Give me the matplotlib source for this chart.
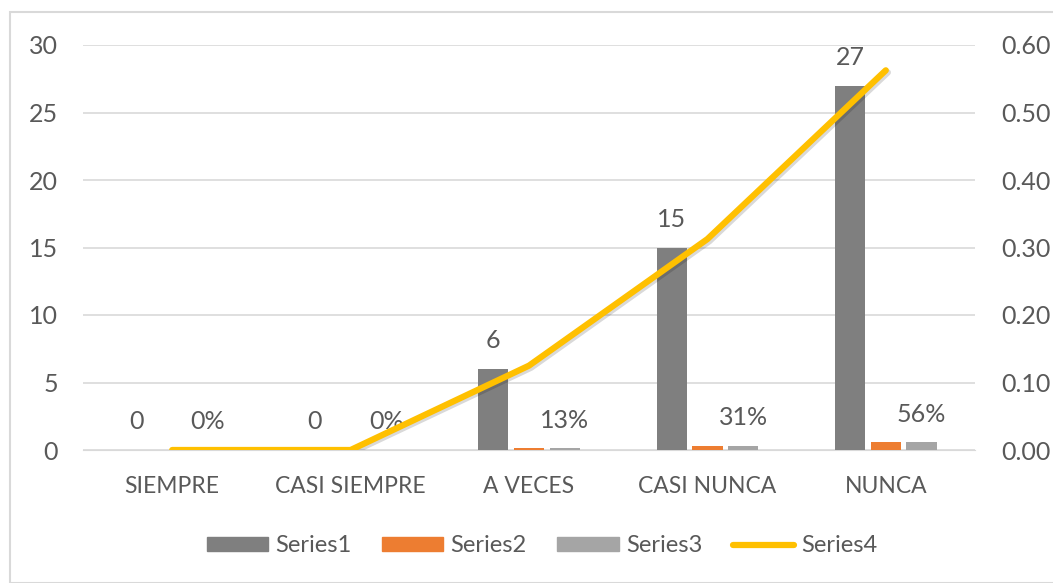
import matplotlib
matplotlib.use("Agg")
import matplotlib.pyplot as plt
import matplotlib.patheffects as pe
from matplotlib.patches import Rectangle
import numpy as np

categories = ["SIEMPRE", "CASI SIEMPRE", "A VECES", "CASI NUNCA", "NUNCA"]
series1 = [0, 0, 6, 15, 27]
series2 = [0, 0, 0.125, 0.3125, 0.5625]
series3 = [0, 0, 0.125, 0.3125, 0.5625]
series4 = [0, 0, 0.125, 0.3125, 0.5625]
s1_labels = ["0", "0", "6", "15", "27"]
s3_labels = ["0%", "0%", "13%", "31%", "56%"]
left_ticks = [0, 5, 10, 15, 20, 25, 30]
right_ticks = [0.0, 0.1, 0.2, 0.3, 0.4, 0.5, 0.6]

plt.rcParams['font.family'] = ['Lato', 'DejaVu Sans']
txt = "#595959"

fig = plt.figure(figsize=(10.53, 5.83), dpi=100)
fig.patches.append(Rectangle((10/1053, 0), 1.2, 1 - 12/583, transform=fig.transFigure,
                             fill=False, edgecolor="#D9D9D9", lw=1.5))
ax = fig.add_axes([83/1053, 1 - 450/583, (975 - 83)/1053, (450 - 45)/583])
ax2 = ax.twinx()

x = np.arange(len(categories))
w = 0.17
off = 0.2
sh = [pe.SimpleLineShadow(offset=(1.5, -1.5), alpha=0.15, shadow_color="k"), pe.Normal()]
ax.bar(x - off, series1, w, color="#7F7F7F", label="Series1", zorder=3)
ax.bar(x, series2, w, color="#ED7D31", label="Series2", zorder=3)
ax.bar(x + off, series3, w, color="#A5A5A5", label="Series3", zorder=3)

for i in range(len(x)):
    ax.annotate(s1_labels[i], (x[i] - off, series1[i]), xytext=(0, 12), textcoords="offset points",
                ha="center", va="bottom", fontsize=18, color=txt)
    ax.annotate(s3_labels[i], (x[i] + off, series3[i]), xytext=(0, 12), textcoords="offset points",
                ha="center", va="bottom", fontsize=18, color=txt)

ax.set_xlim(-0.5, len(x) - 0.5)
ax.set_ylim(0, 30)
ax2.set_ylim(0, 0.6)
ax.set_yticks(left_ticks)
ax2.set_yticks(right_ticks)
ax2.set_yticklabels([f"{v:.2f}" for v in right_ticks])
ax.set_xticks(x)
ax.set_xticklabels(categories)
ax.grid(axis="y", color="#D9D9D9", lw=1.2, zorder=0)
ax.set_axisbelow(True)
for a in (ax, ax2):
    for s in a.spines.values():
        s.set_visible(False)
    a.tick_params(length=0, labelsize=18, colors=txt)
ax.tick_params(axis="x", labelsize=16.5, pad=19)
ax.tick_params(axis="y", pad=18)
ax2.tick_params(axis="y", pad=19)
ax.spines["bottom"].set_visible(True)
ax.spines["bottom"].set_color("#D9D9D9")
ax.set_zorder(ax2.get_zorder() + 1)
ax.patch.set_visible(False)

# Series4 uses the secondary scale; draw it on the top axes through ax2's data transform
ax.plot(x, series4, color="#FFC000", lw=4.5, solid_capstyle="round",
        solid_joinstyle="round", zorder=5, path_effects=sh, transform=ax2.transData)

handles = [Rectangle((0, 0), 1, 1, color="#7F7F7F"), Rectangle((0, 0), 1, 1, color="#ED7D31"),
           Rectangle((0, 0), 1, 1, color="#A5A5A5"),
           plt.Line2D([0], [0], color="#FFC000", lw=4.5, solid_capstyle="round")]
fig.legend(handles, ["Series1", "Series2", "Series3", "Series4"], loc="center",
           bbox_to_anchor=(542/1053, 1 - 546/583), ncol=4, frameon=False, fontsize=17,
           labelcolor=txt, handlelength=2.6, handleheight=0.55, handletextpad=0.3, columnspacing=1.3)

fig.savefig("out.png", dpi=100)
